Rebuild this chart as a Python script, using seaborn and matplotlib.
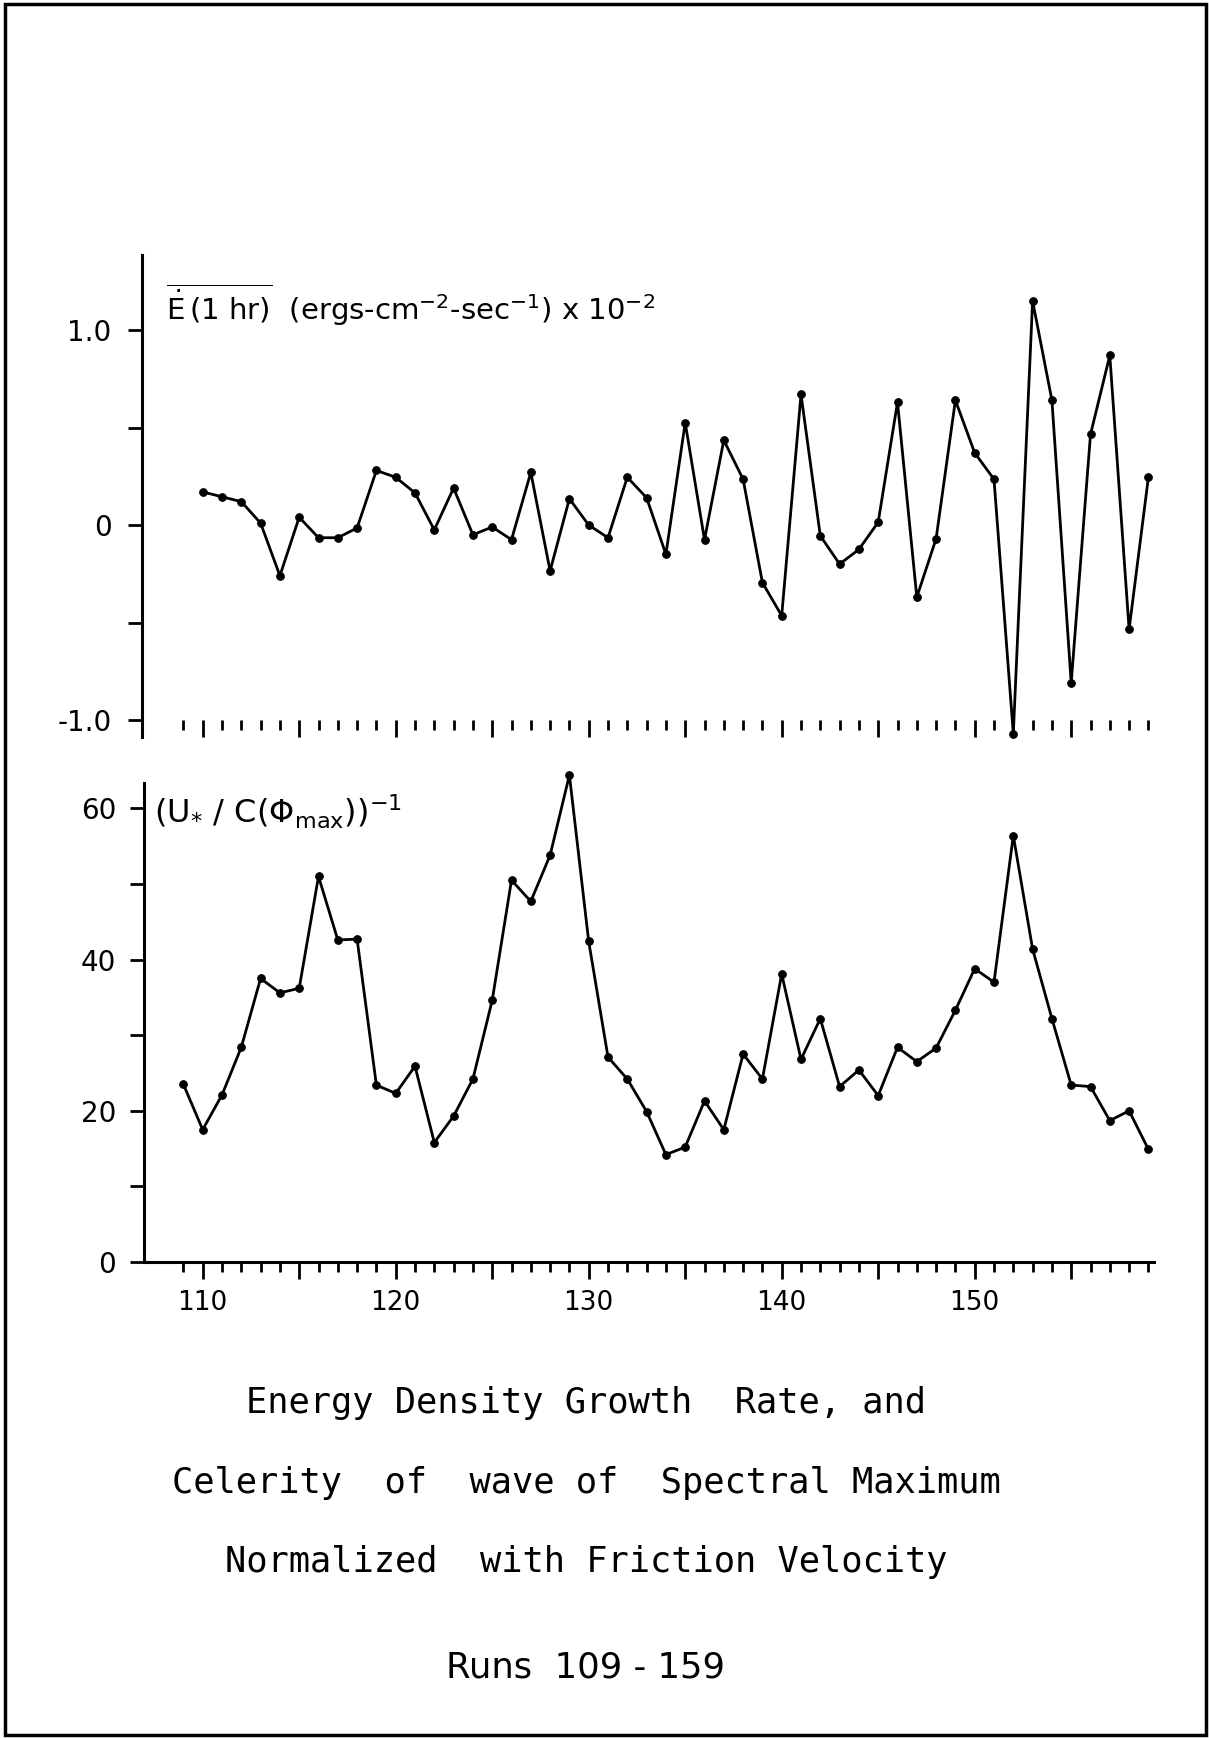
import matplotlib
matplotlib.use("Agg")
import matplotlib.pyplot as plt
from matplotlib.patches import Rectangle
from matplotlib.ticker import FixedLocator, FixedFormatter
import seaborn as sns
import pandas as pd

# ---------------- data ----------------
runs_top = [110, 111, 112, 113, 114, 115, 116, 117, 118, 119,
            120, 121, 122, 123, 124, 125, 126, 127, 128, 129,
            130, 131, 132, 133, 134, 135, 136, 137, 138, 139,
            140, 141, 142, 143, 144, 145, 146, 147, 148, 149,
            150, 151, 152, 153, 154, 155, 156, 157, 158, 159]
edot = [0.17, 0.145, 0.12, 0.01, -0.26, 0.04, -0.065, -0.065, -0.015, 0.28,
        0.245, 0.165, -0.025, 0.19, -0.05, -0.01, -0.075, 0.27, -0.235, 0.135,
        0.0, -0.065, 0.245, 0.14, -0.15, 0.525, -0.075, 0.435, 0.235, -0.295,
        -0.465, 0.67, -0.055, -0.2, -0.125, 0.015, 0.63, -0.37, -0.07, 0.64,
        0.37, 0.235, -1.07, 1.15, 0.64, -0.81, 0.465, 0.87, -0.535, 0.245]

runs_bot = [109, 110, 111, 112, 113, 114, 115, 116, 117, 118, 119,
            120, 121, 122, 123, 124, 125, 126, 127, 128, 129,
            130, 131, 132, 133, 134, 135, 136, 137, 138, 139,
            140, 141, 142, 143, 144, 145, 146, 147, 148, 149,
            150, 151, 152, 153, 154, 155, 156, 157, 158, 159]
celerity = [23.5, 17.5, 22.1, 28.4, 37.5, 35.6, 36.2, 51.0, 42.6, 42.7, 23.4,
            22.3, 25.9, 15.8, 19.3, 24.2, 34.6, 50.5, 47.7, 53.8, 64.4,
            42.4, 27.1, 24.2, 19.9, 14.2, 15.2, 21.3, 17.5, 27.5, 24.2,
            38.1, 26.8, 32.2, 23.2, 25.4, 22.0, 28.4, 26.5, 28.3, 33.3,
            38.8, 37.0, 56.4, 41.4, 32.2, 23.4, 23.2, 18.7, 20.0, 14.9]

x_ticks = [109, 110, 111, 112, 113, 114, 115, 116, 117, 118, 119,
           120, 121, 122, 123, 124, 125, 126, 127, 128, 129,
           130, 131, 132, 133, 134, 135, 136, 137, 138, 139,
           140, 141, 142, 143, 144, 145, 146, 147, 148, 149,
           150, 151, 152, 153, 154, 155, 156, 157, 158, 159]
x_major = [110, 115, 120, 125, 130, 135, 140, 145, 150, 155]
x_labels = ["110", "", "120", "", "130", "", "140", "", "150", ""]

top_yticks = [-1.0, -0.5, 0.0, 0.5, 1.0]
top_ylabels = ["-1.0", "", "0", "", "1.0"]
bot_yticks = [0, 10, 20, 30, 40, 50, 60]
bot_ylabels = ["0", "", "20", "", "40", "", "60"]

title_lines = ["Energy Density Growth  Rate, and",
               "Celerity  of  wave of  Spectral Maximum",
               "Normalized  with Friction Velocity",
               "Runs  109 - 159"]

# ---------------- style ----------------
sns.set_style("white")
plt.rcParams["font.family"] = ["DejaVu Sans"]
plt.rcParams["mathtext.fontset"] = "dejavusans"
for key in ("text.color", "axes.labelcolor", "xtick.color", "ytick.color",
            "axes.edgecolor"):
    plt.rcParams[key] = "black"

W, H = 1209, 1738
fig = plt.figure(figsize=(W / 100, H / 100), dpi=100)
fig.patch.set_facecolor("white")


def fx(px):
    return px / W


def fy(py):
    return 1 - py / H


# top axes: pixels left 142, right 1160, top 255, bottom 737
ax1 = fig.add_axes([fx(142), fy(737), fx(1160 - 142), (737 - 255) / H])
# bottom axes: left 144, right 1160, top 763, bottom 1262
ax2 = fig.add_axes([fx(144), fy(1262), fx(1160 - 144), (1262 - 763) / H])

px_per_run = 19.3
x110 = 202.7

df_top = pd.DataFrame({"run": runs_top, "edot": edot})
df_bot = pd.DataFrame({"run": runs_bot, "cel": celerity})

line_kw = dict(color="black", linewidth=2.0, marker="o", markersize=5.5,
               markeredgecolor="black", markerfacecolor="black", clip_on=False)
sns.lineplot(data=df_top, x="run", y="edot", ax=ax1, **line_kw)
sns.lineplot(data=df_bot, x="run", y="cel", ax=ax2, **line_kw)

for ax, left_px in ((ax1, 142), (ax2, 144)):
    ax.set_xlim(110 - (x110 - left_px) / px_per_run,
                110 + (1160 - x110) / px_per_run)
    ax.set_xlabel("")
    ax.set_ylabel("")
    ax.set_facecolor("none")
    ax.spines["top"].set_visible(False)
    ax.spines["right"].set_visible(False)
    ax.spines["left"].set_linewidth(2.2)
    ax.spines["bottom"].set_linewidth(2.2)
    ax.xaxis.set_major_locator(FixedLocator(x_major))
    ax.xaxis.set_minor_locator(FixedLocator([t for t in x_ticks if t not in x_major]))
    ax.tick_params(axis="x", which="major", direction="out", length=12, width=2.0,
                   bottom=True, top=False, colors="black")
    ax.tick_params(axis="x", which="minor", direction="out", length=7, width=2.0,
                   bottom=True, top=False, colors="black")
    ax.tick_params(axis="y", which="major", direction="out", length=10, width=2.0,
                   left=True, right=False, labelsize=20, colors="black")

# top panel
ax1.set_ylim(-1.087, 1.385)
ax1.spines["bottom"].set_position(("data", -1.0))
ax1.spines["bottom"].set_color("none")
ax1.tick_params(axis="x", which="both", labelbottom=False)
ax1.yaxis.set_major_locator(FixedLocator(top_yticks))
ax1.yaxis.set_major_formatter(FixedFormatter(top_ylabels))
ax1.tick_params(axis="y", pad=12)

# bottom panel
ax2.set_ylim(0, 66)
ax2.spines["left"].set_bounds(0, 63.4)
ax2.spines["bottom"].set_bounds(ax2.get_xlim()[0], 159.3)
ax2.yaxis.set_major_locator(FixedLocator(bot_yticks))
ax2.yaxis.set_major_formatter(FixedFormatter(bot_ylabels))
ax2.xaxis.set_major_formatter(FixedFormatter(x_labels))
ax2.tick_params(axis="x", which="major", labelsize=19, pad=8)
ax2.tick_params(axis="y", pad=10)

# panel labels
fig.text(fx(166), fy(320),
         r"$\overline{\dot{\mathrm{E}}\,(\mathrm{1\ hr})}$"
         r"  (ergs-cm$^{-2}$-sec$^{-1}$) x 10$^{-2}$",
         fontsize=21, va="baseline", ha="left")
fig.text(fx(154), fy(824),
         r"$(\mathrm{U}_{*}\ /\ \mathrm{C}(\Phi_{\mathrm{max}}))^{-1}$",
         fontsize=23, va="baseline", ha="left")

# titles
title_fonts = ["DejaVu Sans Mono", "DejaVu Sans Mono", "DejaVu Sans Mono",
               "DejaVu Sans"]
for txt, yb, fam in zip(title_lines, (1413, 1493, 1572, 1677), title_fonts):
    fig.text(fx(586), fy(yb), txt, fontsize=25.5, ha="center", va="baseline",
             family=fam)

# page border
fig.add_artist(Rectangle((fx(5), fy(1735)), fx(1206 - 5), (1735 - 4) / H,
                         transform=fig.transFigure, fill=False,
                         edgecolor="black", linewidth=2.5))

fig.savefig("out.png", dpi=100, facecolor="white")
